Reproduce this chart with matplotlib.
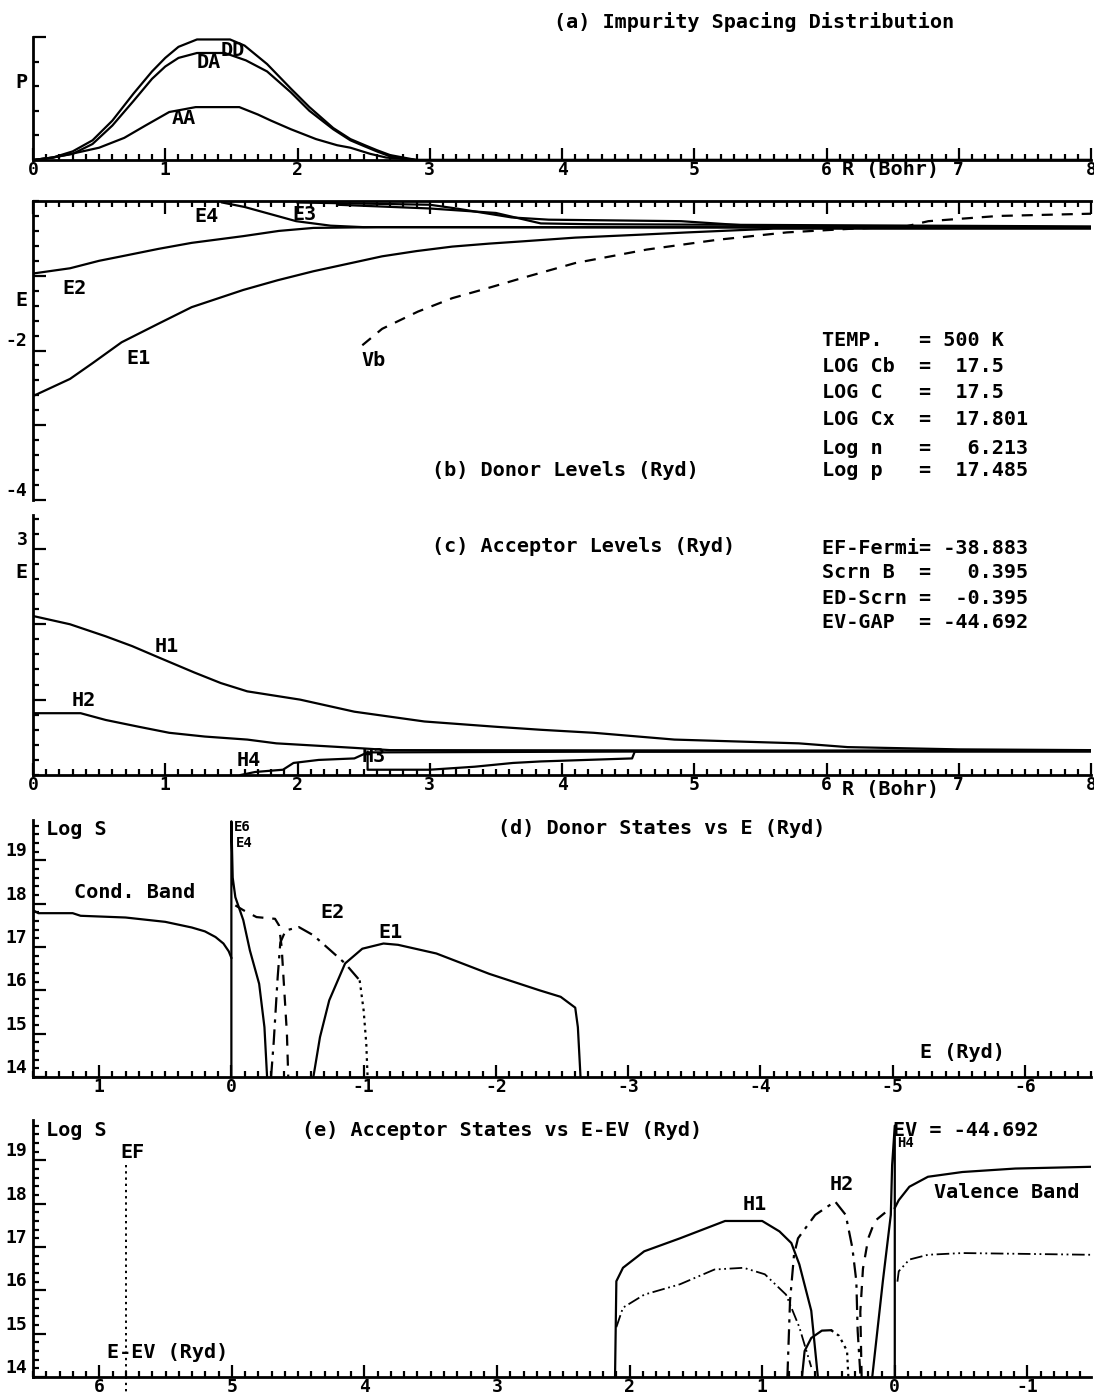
import matplotlib
matplotlib.use("Agg")
import matplotlib.pyplot as plt
from matplotlib.ticker import MultipleLocator

# (a) impurity spacing distribution, P vs R (Bohr)
r_dd = [0, 0.15, 0.3, 0.45, 0.6, 0.76, 0.9, 1.0, 1.1, 1.24, 1.49, 1.6, 1.77, 1.95, 2.09, 2.27, 2.4, 2.51, 2.6, 2.7, 2.8, 2.9, 8]
p_dd = [0, 0.02, 0.07, 0.16, 0.32, 0.54, 0.72, 0.83, 0.92, 0.98, 0.98, 0.93, 0.78, 0.58, 0.43, 0.26, 0.17, 0.12, 0.08, 0.04, 0.02, 0.0, 0]
r_da = [0, 0.15, 0.3, 0.45, 0.6, 0.76, 0.9, 1.0, 1.1, 1.24, 1.45, 1.61, 1.77, 1.95, 2.09, 2.27, 2.4, 2.51, 2.6, 2.7, 2.8, 2.9, 8]
p_da = [0, 0.02, 0.05, 0.13, 0.28, 0.48, 0.66, 0.76, 0.83, 0.87, 0.87, 0.81, 0.72, 0.55, 0.40, 0.25, 0.16, 0.11, 0.07, 0.03, 0.01, 0.0, 0]
r_aa = [0, 0.15, 0.29, 0.5, 0.69, 0.85, 1.03, 1.23, 1.56, 1.7, 1.8, 1.95, 2.14, 2.3, 2.4, 2.55, 2.67, 2.8, 2.9, 8]
p_aa = [0, 0.02, 0.05, 0.10, 0.18, 0.28, 0.39, 0.43, 0.43, 0.37, 0.32, 0.25, 0.17, 0.12, 0.10, 0.05, 0.02, 0.01, 0.0, 0]

# (b) donor levels E (Ryd) vs R
r_e1 = [0, 0.28, 0.45, 0.67, 0.95, 1.2, 1.59, 1.85, 2.12, 2.38, 2.64, 2.9, 3.17, 3.45, 3.7, 4.1, 4.6, 4.95, 5.6, 8]
e1 = [-2.61, -2.38, -2.17, -1.89, -1.64, -1.42, -1.19, -1.06, -0.94, -0.84, -0.74, -0.67, -0.61, -0.57, -0.54, -0.49, -0.45, -0.42, -0.37, -0.37]
r_e2 = [0, 0.28, 0.5, 0.67, 0.95, 1.2, 1.59, 1.86, 2.12, 2.6, 8]
e2 = [-0.97, -0.9, -0.8, -0.74, -0.64, -0.56, -0.47, -0.4, -0.36, -0.35, -0.36]
r_e3 = [2.0, 3.0, 3.2, 3.62, 3.9, 4.9, 5.5, 8]
e3 = [-0.02, -0.05, -0.1, -0.22, -0.25, -0.27, -0.34, -0.35]
r_e4 = [1.43, 1.6, 1.99, 2.25, 2.5, 8]
e4 = [-0.02, -0.08, -0.27, -0.33, -0.35, -0.35]
r_e5 = [2.3, 3.0, 3.5, 3.84, 4.2, 8]
e5 = [-0.05, -0.1, -0.16, -0.3, -0.31, -0.34]
r_vb = [2.49, 2.64, 2.91, 3.17, 3.43, 3.7, 4.1, 4.64, 5.17, 5.7, 6.2, 6.6, 6.77, 7.3, 8]
vb = [-1.93, -1.71, -1.48, -1.3, -1.17, -1.03, -0.83, -0.65, -0.52, -0.42, -0.37, -0.34, -0.27, -0.2, -0.17]

# (c) acceptor levels E (Ryd) vs R
r_h1 = [0, 0.28, 0.55, 0.75, 0.95, 1.22, 1.42, 1.62, 2.02, 2.43, 2.96, 3.5, 3.84, 4.24, 4.85, 5.79, 6.16, 7, 8]
h1 = [2.11, 2.0, 1.84, 1.71, 1.56, 1.36, 1.22, 1.11, 1.0, 0.84, 0.71, 0.64, 0.6, 0.56, 0.47, 0.42, 0.37, 0.34, 0.33]
r_h2 = [0, 0.36, 0.55, 0.8, 1.03, 1.3, 1.62, 1.84, 2.43, 2.7, 8]
h2 = [0.82, 0.82, 0.73, 0.64, 0.56, 0.51, 0.47, 0.42, 0.36, 0.33, 0.32]
r_h3 = [2.53, 2.53, 3.0, 3.34, 3.63, 3.84, 4.53, 4.55, 8]
h3 = [0.31, 0.07, 0.07, 0.11, 0.16, 0.18, 0.22, 0.31, 0.31]
r_h4 = [1.57, 1.68, 1.89, 1.97, 2.16, 2.43, 2.53, 8]
h4 = [0.0, 0.04, 0.07, 0.16, 0.2, 0.22, 0.3, 0.33]

# (d) donor states, log S vs E (Ryd)
d_cb_e = [1.5, 1.46, 1.2, 1.14, 0.8, 0.5, 0.3, 0.2, 0.12, 0.06, 0.02, 0.0]
d_cb_s = [17.85, 17.78, 17.78, 17.72, 17.68, 17.58, 17.45, 17.36, 17.23, 17.08, 16.9, 16.75]
d_top_e = [0.0, 0.0, -0.01, -0.03, -0.09, -0.14, -0.21, -0.25, -0.27]
d_top_s = [14.0, 19.9, 18.6, 18.15, 17.62, 16.92, 16.15, 15.15, 14.0]
d_e2a_e = [-0.03, -0.09, -0.19, -0.33, -0.36, -0.38, -0.40, -0.42, -0.43]
d_e2a_s = [17.96, 17.85, 17.69, 17.65, 17.5, 17.0, 16.0, 15.0, 14.0]
d_e2b_e = [-0.30, -0.32, -0.35, -0.37, -0.41, -0.51, -0.62, -0.75, -0.86, -0.97]
d_e2b_s = [14.0, 14.8, 16.3, 17.1, 17.38, 17.46, 17.27, 16.92, 16.62, 16.23]
d_e2c_e = [-0.97, -1.0, -1.02, -1.03]
d_e2c_s = [16.23, 15.54, 14.77, 14.0]
d_e1_e = [-0.62, -0.67, -0.74, -0.86, -0.99, -1.15, -1.26, -1.55, -1.95, -2.33, -2.49, -2.6, -2.62, -2.64]
d_e1_s = [14.0, 14.92, 15.77, 16.62, 16.96, 17.08, 17.05, 16.85, 16.38, 16.0, 15.85, 15.6, 15.15, 14.0]

# (e) acceptor states, log S vs E-EV (Ryd)
a_h1_e = [2.11, 2.1, 2.05, 1.89, 1.62, 1.28, 1.0, 0.87, 0.78, 0.72, 0.63, 0.58]
a_h1_s = [14.0, 16.21, 16.52, 16.9, 17.2, 17.6, 17.6, 17.36, 17.09, 16.6, 15.53, 14.0]
a_h1d_e = [2.1, 2.05, 1.89, 1.62, 1.36, 1.14, 0.98, 0.82, 0.72, 0.63]
a_h1d_s = [15.15, 15.6, 15.9, 16.14, 16.48, 16.52, 16.37, 15.9, 15.15, 14.23]
a_h2_e = [0.81, 0.79, 0.76, 0.73, 0.6, 0.45, 0.37, 0.32, 0.29, 0.28, 0.26]
a_h2_s = [14.0, 15.76, 16.82, 17.2, 17.74, 18.05, 17.74, 16.98, 16.21, 15.07, 14.08]
a_h2b_e = [0.25, 0.26, 0.24, 0.2, 0.15, 0.03]
a_h2b_s = [14.0, 15.5, 16.5, 17.2, 17.6, 17.9]
a_h3_e = [0.7, 0.68, 0.63, 0.55, 0.48]
a_h3_s = [14.0, 14.6, 14.9, 15.07, 15.08]
a_h3d_e = [0.48, 0.42, 0.36, 0.35]
a_h3d_s = [15.08, 14.95, 14.6, 14.0]
a_h4_e = [0.17, 0.09, 0.03, 0.02, 0.0, 0.0]
a_h4_s = [14.0, 16.21, 17.74, 18.89, 19.8, 14.0]
a_vb_e = [0.0, -0.03, -0.11, -0.25, -0.51, -0.91, -1.48]
a_vb_s = [17.9, 18.08, 18.39, 18.62, 18.73, 18.81, 18.85]
a_vbd_e = [-0.02, -0.03, -0.11, -0.25, -0.51, -1.0, -1.48]
a_vbd_s = [16.2, 16.44, 16.71, 16.82, 16.86, 16.84, 16.82]
ef_e = [5.8, 5.8]
ef_s = [18.9, 13.6]

params_b = ["TEMP.   = 500 K", "LOG Cb  =  17.5", "LOG C   =  17.5",
            "LOG Cx  =  17.801", "Log n   =   6.213", "Log p   =  17.485"]
params_c = ["EF-Fermi= -38.883", "Scrn B  =   0.395", "ED-Scrn =  -0.395", "EV-GAP  = -44.692"]

W, H = 1094, 1395
plt.rcParams["font.family"] = ["DejaVu Sans Mono"]
plt.rcParams["font.weight"] = "bold"

fig = plt.figure(figsize=(W / 100, H / 100), dpi=100)

DASH = (0, (5, 4))
DASHDOT = (0, (7, 3, 1.5, 3))
DOT = (0, (1.2, 2))
DASHDOTDOT = (0, (7, 2, 1, 2, 1, 2))
LW = 1.6


def make_axes(top, bottom, left=33, right=1091):
    return fig.add_axes([left / W, 1 - bottom / H, (right - left) / W, (bottom - top) / H])


def style_axes(ax, shown):
    for name, sp in ax.spines.items():
        sp.set_visible(name in shown)
        sp.set_linewidth(2.0)
    ax.tick_params(which="both", direction="in", width=1.6, labelsize=13, pad=4)
    ax.tick_params(axis="x", which="both", pad=1)
    ax.tick_params(which="major", length=9)
    ax.tick_params(which="minor", length=4)
    ax.patch.set_visible(False)


def text(x, y, s, size=14.5, ha="left"):
    fig.text(x / W, 1 - y / H, s, ha=ha, va="center", fontsize=size)


# (a)
ax = make_axes(37, 160)
ax.plot(r_dd, p_dd, color="k", lw=LW)
ax.plot(r_da, p_da, color="k", lw=LW)
ax.plot(r_aa, p_aa, color="k", lw=LW)
ax.set_xlim(0, 8)
ax.set_ylim(0, 1)
ax.set_xticks(range(9))
ax.xaxis.set_minor_locator(MultipleLocator(0.1))
ax.set_yticks([1.0], [""])
ax.yaxis.set_minor_locator(MultipleLocator(0.2))
style_axes(ax, ("left", "bottom"))
text(554, 22, "(a) Impurity Spacing Distribution")
text(21, 83, "P", ha="center")
text(233, 50, "DD", ha="center")
text(209, 63, "DA", ha="center")
text(184, 118, "AA", ha="center")
text(842, 169, "R (Bohr)")

# (b)
ax = make_axes(201, 500)
for r, e in [(r_e1, e1), (r_e2, e2), (r_e3, e3), (r_e4, e4), (r_e5, e5)]:
    ax.plot(r, e, color="k", lw=LW)
ax.plot(r_vb, vb, color="k", lw=LW, ls=DASH)
ax.set_xlim(0, 8)
ax.set_ylim(-4, 0)
ax.xaxis.set_ticks_position("top")
ax.set_xticks(range(9), [""] * 9)
ax.xaxis.set_minor_locator(MultipleLocator(0.1))
ax.set_yticks([-1, -2, -3, -4], ["", "-2", "", "-4"])
ax.yaxis.set_minor_locator(MultipleLocator(0.2))
style_axes(ax, ("left", "top"))
plt.setp(ax.get_yticklabels(), va="bottom")
text(207, 217, "E4", ha="center")
text(305, 215, "E3", ha="center")
text(74, 288, "E2", ha="center")
text(139, 358, "E1", ha="center")
text(374, 360, "Vb", ha="center")
text(21, 300, "E", ha="center")
text(432, 470, "(b) Donor Levels (Ryd)")
for i, line in enumerate(params_b):
    text(822, [340, 367, 393, 420, 448, 470][i], line)

# (c)
ax = make_axes(515, 775)
for r, e in [(r_h1, h1), (r_h2, h2), (r_h3, h3), (r_h4, h4)]:
    ax.plot(r, e, color="k", lw=LW)
ax.set_xlim(0, 8)
ax.set_ylim(0, 3.45)
ax.set_xticks(range(9))
ax.xaxis.set_minor_locator(MultipleLocator(0.1))
ax.set_yticks([1, 2, 3], ["", "", "3"])
ax.yaxis.set_minor_locator(MultipleLocator(0.2))
style_axes(ax, ("left", "bottom"))
plt.setp(ax.get_yticklabels(), va="bottom")
text(21, 572, "E", ha="center")
text(167, 647, "H1", ha="center")
text(84, 700, "H2", ha="center")
text(249, 760, "H4", ha="center")
text(374, 757, "H3", ha="center")
text(432, 547, "(c) Acceptor Levels (Ryd)")
for i, line in enumerate(params_c):
    text(822, [548, 573, 598, 623][i], line)
text(842, 790, "R (Bohr)")

# (d)
ax = make_axes(820, 1077)
ax.plot(d_cb_e, d_cb_s, color="k", lw=LW)
ax.plot(d_top_e, d_top_s, color="k", lw=LW)
ax.plot(d_e2a_e, d_e2a_s, color="k", lw=LW, ls=DASH)
ax.plot(d_e2b_e, d_e2b_s, color="k", lw=LW, ls=DASHDOT)
ax.plot(d_e2c_e, d_e2c_s, color="k", lw=LW, ls=DOT)
ax.plot(d_e1_e, d_e1_s, color="k", lw=LW)
ax.set_xlim(1.5, -6.5)
ax.set_ylim(14, 19.93)
ax.set_xticks(range(-6, 2), [str(v) for v in range(-6, 2)])
ax.xaxis.set_minor_locator(MultipleLocator(0.1))
ax.set_yticks(range(14, 20))
ax.yaxis.set_minor_locator(MultipleLocator(0.2))
style_axes(ax, ("left", "bottom"))
plt.setp(ax.get_yticklabels(), va="bottom")
text(46, 830, "Log S")
text(74, 892, "Cond. Band")
text(333, 913, "E2", ha="center")
text(391, 932, "E1", ha="center")
text(242, 827, "E6", size=10, ha="center")
text(244, 843, "E4", size=10, ha="center")
text(498, 828, "(d) Donor States vs E (Ryd)")
text(920, 1053, "E (Ryd)")

# (e)
ax = make_axes(1120, 1377)
ax.plot(a_h1_e, a_h1_s, color="k", lw=LW)
ax.plot(a_h1d_e, a_h1d_s, color="k", lw=1.3, ls=DASHDOTDOT)
ax.plot(a_h2_e, a_h2_s, color="k", lw=LW, ls=DASHDOT)
ax.plot(a_h2b_e, a_h2b_s, color="k", lw=LW, ls=DASH)
ax.plot(a_h3_e, a_h3_s, color="k", lw=LW)
ax.plot(a_h3d_e, a_h3d_s, color="k", lw=LW, ls=DOT)
ax.plot(a_h4_e, a_h4_s, color="k", lw=LW)
ax.plot(a_vb_e, a_vb_s, color="k", lw=LW)
ax.plot(a_vbd_e, a_vbd_s, color="k", lw=1.3, ls=DASHDOTDOT)
ax.plot(ef_e, ef_s, color="k", lw=1.4, ls=DOT, clip_on=False)
ax.set_xlim(6.5, -1.48)
ax.set_ylim(14, 19.93)
ax.set_xticks(range(-1, 7), [str(v) for v in range(-1, 7)])
ax.xaxis.set_minor_locator(MultipleLocator(0.1))
ax.set_yticks(range(14, 20))
ax.yaxis.set_minor_locator(MultipleLocator(0.2))
style_axes(ax, ("left", "bottom"))
plt.setp(ax.get_yticklabels(), va="bottom")
text(46, 1130, "Log S")
text(133, 1153, "EF", ha="center")
text(107, 1353, "E-EV (Ryd)")
text(302, 1130, "(e) Acceptor States vs E-EV (Ryd)")
text(893, 1130, "EV = -44.692")
text(906, 1143, "H4", size=10, ha="center")
text(755, 1205, "H1", ha="center")
text(842, 1185, "H2", ha="center")
text(934, 1192, "Valence Band")

fig.savefig("out.png", dpi=100)
